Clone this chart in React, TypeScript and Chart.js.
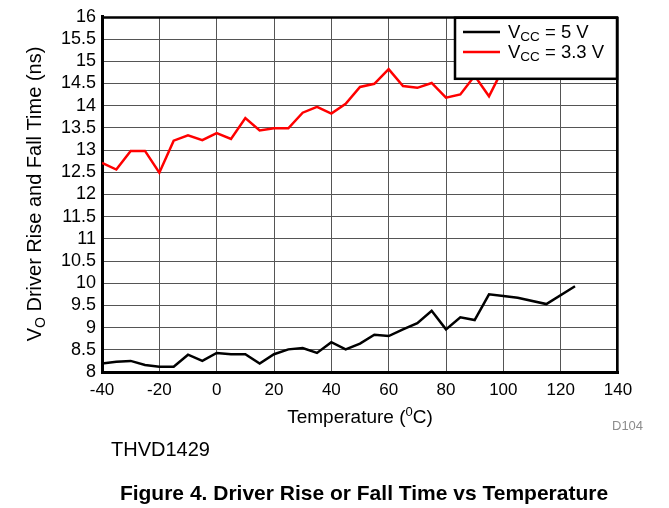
import { useEffect, useRef } from "react";
import { Chart, registerables } from "chart.js";

Chart.register(...registerables);

// Temperature (°C) for each measured point
const temps = [-40, -35, -30, -25, -20, -15, -10, -5, 0, 5, 10, 15, 20, 25, 30, 35, 40, 45, 50, 55, 60, 65, 70, 75, 80, 85, 90, 95, 100, 105, 115, 125];
// VCC = 5 V rise/fall time (ns)
const vcc5 = [8.19, 8.23, 8.25, 8.16, 8.12, 8.12, 8.39, 8.25, 8.43, 8.40, 8.40, 8.19, 8.40, 8.51, 8.54, 8.43, 8.67, 8.51, 8.64, 8.84, 8.81, 8.96, 9.10, 9.38, 8.96, 9.23, 9.17, 9.75, 9.71, 9.67, 9.53, 9.93];
// VCC = 3.3 V rise/fall time (ns)
const vcc33 = [12.71, 12.56, 12.98, 12.98, 12.49, 13.21, 13.33, 13.22, 13.38, 13.25, 13.72, 13.44, 13.49, 13.49, 13.84, 13.97, 13.82, 14.04, 14.42, 14.49, 14.82, 14.44, 14.40, 14.51, 14.18, 14.25, 14.67, 14.21, 14.85, 14.9, 14.95, 15.05];

const xMin = -40, xMax = 140, xStep = 20;
const yMin = 8, yMax = 16, yStep = 0.5;

const FONT = '"Liberation Sans", Arial, sans-serif';

type Seg = { t: string; size: number; dy?: number; bold?: boolean };

function segWidth(ctx: CanvasRenderingContext2D, segs: Seg[]) {
  let w = 0;
  for (const s of segs) {
    ctx.font = `${s.bold ? "bold " : ""}${s.size}px ${FONT}`;
    w += ctx.measureText(s.t).width;
  }
  return w;
}

function drawSegs(ctx: CanvasRenderingContext2D, segs: Seg[], x: number, y: number) {
  let cx = x;
  for (const s of segs) {
    ctx.font = `${s.bold ? "bold " : ""}${s.size}px ${FONT}`;
    ctx.fillText(s.t, cx, y + (s.dy || 0));
    cx += ctx.measureText(s.t).width;
  }
}

const decorPlugin = {
  id: "decor",
  beforeDatasetsDraw(chart: any) {
    const { ctx, chartArea: a } = chart;
    ctx.save();
    ctx.strokeStyle = "#000";
    ctx.lineWidth = 2;
    ctx.beginPath();
    ctx.moveTo(a.left, a.top + 1);
    ctx.lineTo(a.right - 1, a.top + 1);
    ctx.lineTo(a.right - 1, a.bottom);
    ctx.stroke();
    ctx.restore();
  },
  afterDatasetsDraw(chart: any) {
    const { ctx, chartArea: a } = chart;
    ctx.save();
    // legend box
    const lx = 455, ly = a.top + 1, lw = a.right - 1 - lx, lh = 61;
    ctx.fillStyle = "#fff";
    ctx.fillRect(lx, ly, lw, lh);
    ctx.strokeStyle = "#000";
    ctx.lineWidth = 2.5;
    ctx.strokeRect(lx, ly, lw, lh);
    const items = chart.data.datasets.map((d: any) => ({ color: d.borderColor, label: d.label as string }));
    const rows = [32, 52];
    items.forEach((it: any, i: number) => {
      const y = rows[i];
      ctx.strokeStyle = it.color;
      ctx.lineWidth = 2.5;
      ctx.beginPath();
      ctx.moveTo(463, y);
      ctx.lineTo(500, y);
      ctx.stroke();
      ctx.fillStyle = "#000";
      ctx.textBaseline = "alphabetic";
      ctx.textAlign = "left";
      const rest = it.label.replace(/^VCC/, "");
      drawSegs(ctx, [
        { t: "V", size: 18.5 },
        { t: "CC", size: 13.5, dy: 3 },
        { t: rest, size: 18.5 },
      ], 508, y + 6);
    });
    ctx.restore();
  },
  afterDraw(chart: any) {
    const { ctx, chartArea: a } = chart;
    ctx.save();
    ctx.fillStyle = "#000";
    ctx.textBaseline = "alphabetic";
    ctx.textAlign = "left";
    // y axis title
    const ySegs: Seg[] = [
      { t: "V", size: 20 },
      { t: "O", size: 14, dy: 4 },
      { t: " Driver Rise and Fall Time (ns)", size: 20 },
    ];
    const yw = segWidth(ctx, ySegs);
    ctx.save();
    ctx.translate(41, 194);
    ctx.rotate(-Math.PI / 2);
    drawSegs(ctx, ySegs, -yw / 2, 0);
    ctx.restore();
    // x axis title
    const xSegs: Seg[] = [
      { t: "Temperature (", size: 19 },
      { t: "0", size: 13, dy: -7 },
      { t: "C)", size: 19 },
    ];
    const xw = segWidth(ctx, xSegs);
    drawSegs(ctx, xSegs, (a.left + a.right) / 2 - xw / 2, 423);
    // figure id
    ctx.fillStyle = "#8c8c8c";
    ctx.font = `13px ${FONT}`;
    ctx.fillText("D104", 612, 430);
    ctx.fillStyle = "#000";
    ctx.font = `20px ${FONT}`;
    ctx.fillText("THVD1429", 111, 456);
    ctx.font = `bold 21px ${FONT}`;
    ctx.textAlign = "center";
    ctx.fillText("Figure 4. Driver Rise or Fall Time vs Temperature", 364, 500);
    ctx.restore();
  },
};

export default function App() {
  const ref = useRef<HTMLCanvasElement>(null);
  useEffect(() => {
    document.body.style.margin = "0";
    const canvas = ref.current!;
    const chart = new Chart(canvas, {
      type: "line",
      data: {
        datasets: [
          {
            label: "VCC = 5 V",
            data: temps.map((t, i) => ({ x: t, y: vcc5[i] })),
            borderColor: "#000000",
            borderWidth: 2.5,
            pointRadius: 0,
            tension: 0,
          },
          {
            label: "VCC = 3.3 V",
            data: temps.map((t, i) => ({ x: t, y: vcc33[i] })),
            borderColor: "#ff0000",
            borderWidth: 2.5,
            pointRadius: 0,
            tension: 0,
          },
        ],
      },
      options: {
        responsive: false,
        animation: false,
        devicePixelRatio: 1,
        layout: { padding: { left: 0, top: 12, right: 51, bottom: 106 } },
        plugins: { legend: { display: false }, tooltip: { enabled: false }, title: { display: false } },
        scales: {
          x: {
            type: "linear",
            min: xMin,
            max: xMax,
            afterFit: (s: any) => { s.height = 30; },
            ticks: { stepSize: xStep, autoSkip: false, color: "#000", font: { family: FONT, size: 17 }, padding: 8, maxRotation: 0, callback: (v: any) => String(v) },
            grid: { color: "#555", lineWidth: 1, drawTicks: false },
            border: { color: "#000", width: 3 },
          },
          y: {
            type: "linear",
            min: yMin,
            max: yMax,
            afterFit: (s: any) => { s.width = 102; },
            ticks: { stepSize: yStep, autoSkip: false, color: "#000", font: { family: FONT, size: 18 }, padding: 6, callback: (v: any) => String(v) },
            grid: { color: "#555", lineWidth: 1, drawTicks: false },
            border: { color: "#000", width: 3 },
          },
        },
      },
      plugins: [decorPlugin],
    });
    return () => chart.destroy();
  }, []);
  return (
    <div style={{ width: 669, height: 508 }}>
      <canvas ref={ref} width={669} height={508} style={{ display: "block" }} />
    </div>
  );
}
